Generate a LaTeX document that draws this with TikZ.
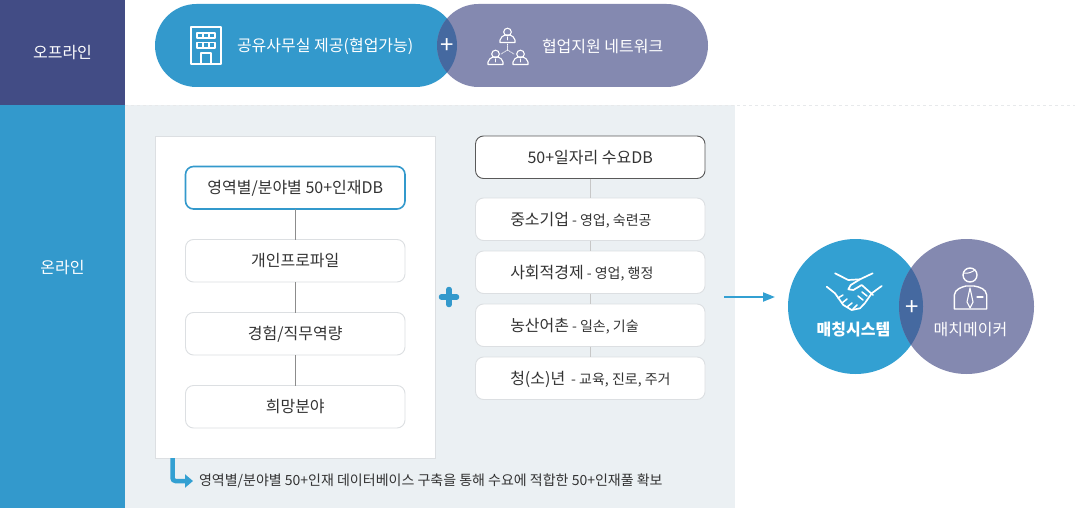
\documentclass[tikz,border=0pt]{standalone}
\usepackage{fontspec}
\setmainfont{Noto Sans CJK KR}
\usepackage{xcolor}
\usepackage{tikz}
\usetikzlibrary{arrows.meta, positioning, calc}
\definecolor{bandblue}{HTML}{3399CC}
\definecolor{discblue}{HTML}{33A0D2}
\definecolor{bandnavy}{HTML}{424C85}
\definecolor{violet}{HTML}{8489B0}
\definecolor{overlap}{HTML}{4569A0}
\definecolor{panelgray}{HTML}{EBF0F3}
\definecolor{inkgray}{HTML}{333333}
\definecolor{edgegray}{HTML}{DCDFE2}
\newcommand{\detailtxt}[1]{{\fontsize{14pt}{17pt}\selectfont #1}}

\begin{document}
\begin{tikzpicture}[
        x=1pt, y=-1pt,
        font=\fontsize{16pt}{19pt}\selectfont,
        text=inkgray,
        outer sep=0pt,
        band/.style={fill=#1, text=white, minimum width=125pt, inner sep=0pt},
        pill/.style={fill=#1, text=white, rounded corners=41.5pt, minimum height=83pt, inner sep=0pt},
        disc/.style={circle, fill=#1, minimum size=135pt, inner sep=0pt},
        lbox/.style={draw=edgegray, line width=0.9pt, fill=white, rounded corners=8pt, minimum width=219.5pt, minimum height=42.5pt, inner sep=0pt, text height=14pt, text depth=2pt},
        rbox/.style={lbox, minimum width=229.5pt},
        tie/.style={draw=black!45, line width=0.6pt},
        tielight/.style={draw=black!22, line width=0.8pt},
        icon/.style={draw=white, line width=1.7pt, line join=round, line cap=round},
        onpill/.style={text=white, inner sep=0pt, anchor=west},
        plus/.style={text=white, inner sep=0pt, font=\fontsize{24pt}{24pt}\selectfont},
        detail/.style={font=\fontsize{14pt}{17pt}\selectfont}
    ]
        \useasboundingbox (0,0) rectangle (1075,508);

        % bands on the left
        \node[band=bandnavy, minimum height=105pt, anchor=north west] (off) at (0,0) {\raisebox{-1pt}{오프라인}};
        \node[band=bandblue, minimum height=403pt, below=0pt of off] (on) {};
        \node[text=white, inner sep=0pt] (ontxt) at (62.5,267.5) {온라인};
        \node[fill=panelgray, minimum width=610pt, minimum height=403pt, inner sep=0pt, anchor=north west] (panel) at (125,105) {};
        \draw[edgegray!70, dashed, line width=0.5pt] (125,105) -- (1075,105);

        % offline pills
        \node[pill=bandblue, minimum width=302pt, anchor=north west] (space) at (155,4) {};
        \node[pill=violet, minimum width=271pt, anchor=north west] (net) at (437,4) {};
        \begin{scope}
            \clip[rounded corners=41.5pt] (155,4) rectangle (457,87);
            \fill[overlap, rounded corners=41.5pt] (437,4) rectangle (708,87);
        \end{scope}
        \node[plus] (plustop) at (447,46) {+};
        \node[onpill] (spacetxt) at (237,46) {공유사무실 제공(협업가능)};
        \node[onpill] (nettxt) at (542,46) {협업지원 네트워크};

        % building icon
        \draw[icon] (191,27) rectangle (221,64);
        \draw[icon, line width=1.3pt] (197,33) rectangle (215,38) (203,33) -- (203,38) (209,33) -- (209,38);
        \draw[icon, line width=1.3pt] (197,42.5) rectangle (215,48) (203,42.5) -- (203,48) (209,42.5) -- (209,48);
        \draw[icon, line width=1.3pt] (201,64) -- (201,53) -- (211,53) -- (211,64);

        % network icon
        \foreach \px/\py in {507.5/32, 495.5/54, 520.5/54} {
            \draw[icon, line width=1.1pt] (\px,\py) circle (3.8);
            \draw[icon, line width=1.1pt] (\px-7.5,\py+10.5) -- (\px-7.5,\py+8) .. controls (\px-7.5,\py+5) and (\px-4,\py+4) .. (\px-2.5,\py+3) -- (\px+2.5,\py+3) .. controls (\px+4,\py+4) and (\px+7.5,\py+5) .. (\px+7.5,\py+8) -- (\px+7.5,\py+10.5) -- cycle;
            \draw[icon, line width=0.8pt] (\px,\py+5) -- (\px,\py+8);
        }
        \draw[icon, line width=0.8pt, densely dotted] (507.5,44) -- (507.5,50) (507.5,50) -- (501,54) (507.5,50) -- (514,54);

        % white panel and its column
        \node[draw=edgegray, line width=0.9pt, fill=white, minimum width=280pt, minimum height=322pt, inner sep=0pt, anchor=north west] (pool) at (155,136) {};
        \node[lbox, draw=bandblue, line width=1.6pt, anchor=north west] (talent) at (185.5,166.5) {영역별/분야별 50+인재DB};
        \node[lbox, below=30.5pt of talent] (profile) {개인프로파일};
        \node[lbox, below=30.5pt of profile] (career) {경험/직무역량};
        \node[lbox, below=30.5pt of career] (wish) {희망분야};
        \draw[tie] (talent) -- (profile);
        \draw[tie] (profile) -- (career);
        \draw[tie] (career) -- (wish);

        % demand column
        \node[rbox, draw=black!65, anchor=north west] (demand) at (475.5,136) {50+일자리 수요DB};
        \node[rbox, below=19.5pt of demand] (sme) {\makebox[160pt][l]{중소기업\hspace{3pt}\detailtxt{- 영업, 숙련공}}};
        \node[rbox, below=10.5pt of sme] (social) {\makebox[160pt][l]{사회적경제\hspace{3pt}\detailtxt{- 영업, 행정}}};
        \node[rbox, below=10.5pt of social] (rural) {\makebox[160pt][l]{농산어촌\hspace{3pt}\detailtxt{- 일손, 기술}}};
        \node[rbox, below=10.5pt of rural] (youth) {\makebox[160pt][l]{청(소)년\hspace{6pt}\detailtxt{- 교육, 진로, 주거}}};
        \draw[tielight] (demand) -- (sme);
        \draw[tielight] (sme) -- (social);
        \draw[tielight] (social) -- (rural);
        \draw[tielight] (rural) -- (youth);

        % thick plus between the columns
        \coordinate (pluscentre) at (449,297);
        \draw[bandblue, line width=5.5pt, line cap=round] ($(pluscentre)+(-7.5,0)$) -- ($(pluscentre)+(7.5,0)$) ($(pluscentre)+(0,-7.5)$) -- ($(pluscentre)+(0,7.5)$);

        % note under the panel
        \node[anchor=west, inner sep=0pt, detail] (note) at (199,481) {영역별/분야별 50+인재 데이터베이스 구축을 통해 수요에 적합한 50+인재풀 확보};
        \coordinate (notestart) at (172.5,458);
        \draw[discblue, line width=4.5pt, rounded corners=3pt, -{Triangle[length=8pt, width=13pt]}] (notestart) |- ([xshift=-6pt]note.west);

        % arrow to the circles
        \coordinate (flowa) at (724,297);
        \coordinate (flowb) at (775,297);
        \draw[discblue, line width=2pt, -{Triangle[length=12pt, width=9pt]}] (flowa) -- (flowb);

        % matching circles
        \node[disc=discblue] (match) at (855.5,306.5) {};
        \node[disc=violet] (maker) at (966.5,306.5) {};
        \begin{scope}
            \clip (855.5,306.5) circle (67.5);
            \fill[overlap] (966.5,306.5) circle (67.5);
        \end{scope}
        \node[plus] (plusright) at (912,308) {+};
        \node[text=white, inner sep=0pt, font=\fontsize{16pt}{19pt}\selectfont\bfseries] (matchtxt) at (853.5,330) {매칭시스템};
        \node[text=white, inner sep=0pt] (makertxt) at (970.5,330) {매치메이커};

        % handshake icon
        \draw[icon] (835,273.3) -- (848.3,280) -- (860,279.3) -- (872.7,273.3);
        \draw[icon] (860,279.3) -- (850.7,285) -- (848.3,289.3) -- (853.3,290) -- (861.7,285) -- (873,295);
        \draw[icon] (881.7,286) -- (871.7,293.3) -- (865,303) -- (860,308.3) -- (851.7,310) -- (843.3,305) -- (835,293.3) -- (826.7,286.7);
        \draw[icon, line width=1.5pt] (838,298) -- (843,295) (842,303) -- (847,299) (847,307) -- (852,303) (853,309) -- (857,305) (863,300) -- (858,296) (867,296) -- (862,292);

        % matchmaker icon
        \draw[icon, line width=1.4pt] (970,275) circle (7);
        \draw[icon, line width=1pt] (963.5,273) .. controls (968,274) and (972,272) .. (975,270);
        \draw[icon, line width=1.4pt] (954.3,309) -- (954.3,295) .. controls (955,289) and (962,287) .. (966,286) -- (974,286) .. controls (980,287) and (986,289) .. (986.7,295) -- (986.7,309) -- cycle;
        \draw[icon, line width=1.1pt] (970,288) -- (967,302) -- (970,308) -- (973,302) -- cycle;
        \draw[icon, line width=1.1pt] (977,297) -- (983,297);
    \end{tikzpicture}
\end{document}
